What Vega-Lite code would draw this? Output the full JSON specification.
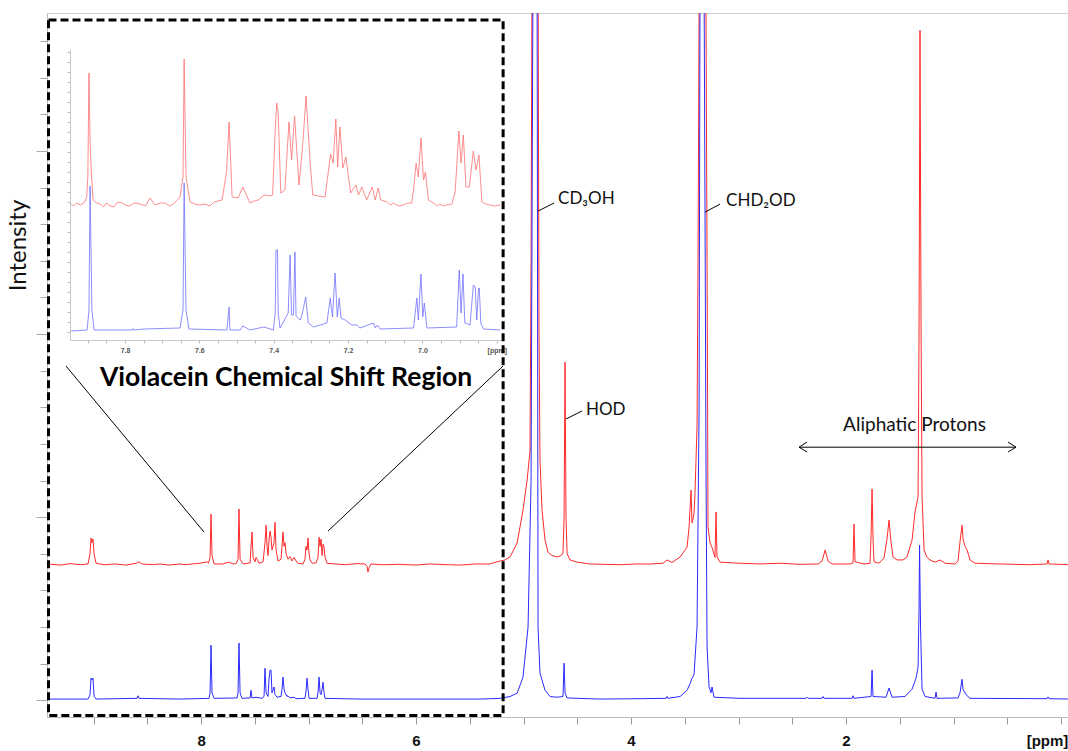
{
"$schema": "https://vega.github.io/schema/vega-lite/v6.json",
"width": 1022, "height": 704,
"autosize": {"type": "none"},
"padding": {"left": 47, "top": 13, "right": 0, "bottom": 34},
"background": "white",
"config": {"view": {"stroke": "#d0d0d0"}, "axis": {"grid": false}},
"datasets": {
"mainRed": [
{"ppm":9.433,"v":3.72},{"ppm":9.3,"v":3.69},{"ppm":9.219,"v":3.73},{"ppm":9.12,"v":3.70},{"ppm":9.051,"v":3.72},{"ppm":9.033,"v":4.0},{"ppm":9.023,"v":4.43},{"ppm":9.014,"v":4.3},{"ppm":9.005,"v":4.40},{"ppm":8.995,"v":4.0},{"ppm":8.977,"v":3.74},{"ppm":8.9,"v":3.70},{"ppm":8.8,"v":3.72},{"ppm":8.7,"v":3.69},{"ppm":8.6,"v":3.74},{"ppm":8.577,"v":3.78},{"ppm":8.55,"v":3.72},{"ppm":8.45,"v":3.70},{"ppm":8.381,"v":3.72},{"ppm":8.3,"v":3.69},{"ppm":8.2,"v":3.72},{"ppm":8.149,"v":3.70},{"ppm":8.05,"v":3.73},{"ppm":8.009,"v":3.74},{"ppm":7.944,"v":3.78},{"ppm":7.93,"v":3.74},{"ppm":7.916,"v":3.9},{"ppm":7.907,"v":5.08},{"ppm":7.898,"v":3.95},{"ppm":7.879,"v":3.72},{"ppm":7.8,"v":3.72},{"ppm":7.74,"v":3.77},{"ppm":7.7,"v":3.72},{"ppm":7.674,"v":3.73},{"ppm":7.656,"v":3.85},{"ppm":7.647,"v":5.22},{"ppm":7.637,"v":3.85},{"ppm":7.609,"v":3.72},{"ppm":7.544,"v":3.75},{"ppm":7.535,"v":4.2},{"ppm":7.526,"v":4.59},{"ppm":7.516,"v":3.9},{"ppm":7.498,"v":3.78},{"ppm":7.488,"v":3.9},{"ppm":7.479,"v":3.85},{"ppm":7.46,"v":3.74},{"ppm":7.423,"v":3.78},{"ppm":7.405,"v":4.3},{"ppm":7.395,"v":4.78},{"ppm":7.386,"v":4.2},{"ppm":7.377,"v":3.95},{"ppm":7.367,"v":4.4},{"ppm":7.358,"v":4.62},{"ppm":7.349,"v":4.45},{"ppm":7.34,"v":4.1},{"ppm":7.321,"v":4.3},{"ppm":7.312,"v":4.86},{"ppm":7.302,"v":4.1},{"ppm":7.284,"v":3.8},{"ppm":7.256,"v":3.85},{"ppm":7.247,"v":4.2},{"ppm":7.237,"v":4.59},{"ppm":7.228,"v":4.2},{"ppm":7.219,"v":4.3},{"ppm":7.209,"v":4.0},{"ppm":7.191,"v":3.85},{"ppm":7.172,"v":3.92},{"ppm":7.153,"v":3.8},{"ppm":7.135,"v":3.9},{"ppm":7.116,"v":3.8},{"ppm":7.098,"v":3.74},{"ppm":7.051,"v":3.72},{"ppm":7.033,"v":3.85},{"ppm":7.023,"v":4.2},{"ppm":7.014,"v":4.1},{"ppm":7.005,"v":4.43},{"ppm":6.995,"v":4.0},{"ppm":6.986,"v":3.83},{"ppm":6.967,"v":3.74},{"ppm":6.93,"v":3.75},{"ppm":6.912,"v":3.9},{"ppm":6.902,"v":4.45},{"ppm":6.893,"v":4.2},{"ppm":6.884,"v":4.4},{"ppm":6.874,"v":3.95},{"ppm":6.865,"v":4.26},{"ppm":6.856,"v":4.2},{"ppm":6.847,"v":3.9},{"ppm":6.828,"v":3.74},{"ppm":6.75,"v":3.72},{"ppm":6.66,"v":3.70},{"ppm":6.55,"v":3.73},{"ppm":6.474,"v":3.72},{"ppm":6.456,"v":3.66},{"ppm":6.447,"v":3.5},{"ppm":6.437,"v":3.62},{"ppm":6.419,"v":3.72},{"ppm":6.3,"v":3.70},{"ppm":6.149,"v":3.71},{"ppm":6.0,"v":3.69},{"ppm":5.87,"v":3.72},{"ppm":5.7,"v":3.70},{"ppm":5.591,"v":3.69},{"ppm":5.45,"v":3.72},{"ppm":5.312,"v":3.72},{"ppm":5.247,"v":3.78},{"ppm":5.172,"v":3.83},{"ppm":5.126,"v":3.91},{"ppm":5.06,"v":4.29},{"ppm":5.005,"v":5.19},{"ppm":4.967,"v":6.01},{"ppm":4.94,"v":6.8},{"ppm":4.93,"v":12},{"ppm":4.921,"v":20},{"ppm":4.893,"v":30},{"ppm":4.865,"v":20},{"ppm":4.856,"v":10},{"ppm":4.847,"v":6.56},{"ppm":4.828,"v":5.19},{"ppm":4.8,"v":4.37},{"ppm":4.772,"v":4.04},{"ppm":4.735,"v":3.95},{"ppm":4.688,"v":3.91},{"ppm":4.651,"v":3.95},{"ppm":4.633,"v":4.02},{"ppm":4.623,"v":5},{"ppm":4.614,"v":9.23},{"ppm":4.605,"v":5},{"ppm":4.595,"v":4.0},{"ppm":4.567,"v":3.83},{"ppm":4.502,"v":3.77},{"ppm":4.381,"v":3.72},{"ppm":4.25,"v":3.71},{"ppm":4.102,"v":3.70},{"ppm":3.95,"v":3.72},{"ppm":3.823,"v":3.72},{"ppm":3.702,"v":3.74},{"ppm":3.665,"v":3.83},{"ppm":3.619,"v":3.76},{"ppm":3.544,"v":3.91},{"ppm":3.479,"v":4.18},{"ppm":3.46,"v":4.73},{"ppm":3.442,"v":5.74},{"ppm":3.433,"v":4.84},{"ppm":3.414,"v":5.1},{"ppm":3.405,"v":5.66},{"ppm":3.386,"v":7.5},{"ppm":3.377,"v":12},{"ppm":3.358,"v":25},{"ppm":3.34,"v":30},{"ppm":3.312,"v":25},{"ppm":3.293,"v":12},{"ppm":3.284,"v":4.73},{"ppm":3.265,"v":4.3},{"ppm":3.247,"v":4.18},{"ppm":3.219,"v":3.9},{"ppm":3.209,"v":5.14},{"ppm":3.2,"v":3.91},{"ppm":3.172,"v":3.77},{"ppm":2.986,"v":3.74},{"ppm":2.8,"v":3.72},{"ppm":2.614,"v":3.74},{"ppm":2.428,"v":3.71},{"ppm":2.26,"v":3.72},{"ppm":2.223,"v":3.8},{"ppm":2.195,"v":4.1},{"ppm":2.167,"v":3.8},{"ppm":2.13,"v":3.72},{"ppm":1.963,"v":3.72},{"ppm":1.935,"v":3.75},{"ppm":1.926,"v":4.81},{"ppm":1.916,"v":3.78},{"ppm":1.833,"v":3.72},{"ppm":1.777,"v":3.74},{"ppm":1.767,"v":4.5},{"ppm":1.758,"v":5.77},{"ppm":1.749,"v":4.4},{"ppm":1.74,"v":3.78},{"ppm":1.693,"v":3.74},{"ppm":1.647,"v":3.88},{"ppm":1.619,"v":4.4},{"ppm":1.6,"v":4.92},{"ppm":1.581,"v":4.3},{"ppm":1.563,"v":3.91},{"ppm":1.526,"v":3.83},{"ppm":1.47,"v":3.83},{"ppm":1.433,"v":3.91},{"ppm":1.386,"v":4.37},{"ppm":1.358,"v":5.14},{"ppm":1.33,"v":5.57},{"ppm":1.321,"v":10},{"ppm":1.312,"v":18.3},{"ppm":1.302,"v":10},{"ppm":1.293,"v":5.57},{"ppm":1.274,"v":4.10},{"ppm":1.247,"v":3.9},{"ppm":1.219,"v":3.83},{"ppm":1.172,"v":3.77},{"ppm":1.126,"v":3.83},{"ppm":1.079,"v":3.74},{"ppm":0.986,"v":3.72},{"ppm":0.958,"v":3.80},{"ppm":0.94,"v":4.32},{"ppm":0.921,"v":4.78},{"ppm":0.912,"v":4.4},{"ppm":0.893,"v":4.2},{"ppm":0.874,"v":4.10},{"ppm":0.847,"v":3.83},{"ppm":0.8,"v":3.74},{"ppm":0.567,"v":3.72},{"ppm":0.288,"v":3.70},{"ppm":0.13,"v":3.72},{"ppm":0.121,"v":3.83},{"ppm":0.112,"v":3.72},{"ppm":-0.074,"v":3.70}
],
"mainBlue": [
{"ppm":9.433,"v":0.03},{"ppm":9.051,"v":0.03},{"ppm":9.033,"v":0.15},{"ppm":9.023,"v":0.6},{"ppm":9.014,"v":0.55},{"ppm":9.005,"v":0.6},{"ppm":8.995,"v":0.1},{"ppm":8.977,"v":0.03},{"ppm":8.595,"v":0.05},{"ppm":8.586,"v":0.12},{"ppm":8.577,"v":0.05},{"ppm":8.195,"v":0.03},{"ppm":7.926,"v":0.05},{"ppm":7.916,"v":0.2},{"ppm":7.907,"v":1.5},{"ppm":7.898,"v":0.2},{"ppm":7.879,"v":0.05},{"ppm":7.665,"v":0.06},{"ppm":7.656,"v":0.2},{"ppm":7.647,"v":1.56},{"ppm":7.637,"v":0.2},{"ppm":7.619,"v":0.05},{"ppm":7.544,"v":0.06},{"ppm":7.535,"v":0.27},{"ppm":7.526,"v":0.06},{"ppm":7.488,"v":0.08},{"ppm":7.433,"v":0.05},{"ppm":7.414,"v":0.1},{"ppm":7.405,"v":0.87},{"ppm":7.395,"v":0.2},{"ppm":7.377,"v":0.1},{"ppm":7.367,"v":0.6},{"ppm":7.358,"v":0.82},{"ppm":7.349,"v":0.82},{"ppm":7.34,"v":0.2},{"ppm":7.321,"v":0.36},{"ppm":7.312,"v":0.15},{"ppm":7.293,"v":0.08},{"ppm":7.256,"v":0.1},{"ppm":7.247,"v":0.3},{"ppm":7.237,"v":0.63},{"ppm":7.228,"v":0.3},{"ppm":7.219,"v":0.2},{"ppm":7.2,"v":0.1},{"ppm":7.191,"v":0.12},{"ppm":7.172,"v":0.06},{"ppm":7.135,"v":0.08},{"ppm":7.116,"v":0.04},{"ppm":7.033,"v":0.05},{"ppm":7.023,"v":0.25},{"ppm":7.014,"v":0.6},{"ppm":7.005,"v":0.3},{"ppm":6.995,"v":0.05},{"ppm":6.921,"v":0.05},{"ppm":6.912,"v":0.2},{"ppm":6.902,"v":0.63},{"ppm":6.893,"v":0.2},{"ppm":6.884,"v":0.15},{"ppm":6.874,"v":0.3},{"ppm":6.865,"v":0.49},{"ppm":6.856,"v":0.2},{"ppm":6.847,"v":0.05},{"ppm":6.521,"v":0.03},{"ppm":5.963,"v":0.03},{"ppm":5.405,"v":0.03},{"ppm":5.219,"v":0.05},{"ppm":5.126,"v":0.1},{"ppm":5.06,"v":0.19},{"ppm":5.005,"v":0.63},{"ppm":4.958,"v":2.0},{"ppm":4.93,"v":6},{"ppm":4.912,"v":20},{"ppm":4.893,"v":30},{"ppm":4.874,"v":20},{"ppm":4.865,"v":2.0},{"ppm":4.847,"v":0.74},{"ppm":4.8,"v":0.27},{"ppm":4.753,"v":0.1},{"ppm":4.688,"v":0.08},{"ppm":4.633,"v":0.1},{"ppm":4.623,"v":1.01},{"ppm":4.614,"v":0.2},{"ppm":4.595,"v":0.06},{"ppm":4.288,"v":0.03},{"ppm":3.916,"v":0.04},{"ppm":3.674,"v":0.05},{"ppm":3.665,"v":0.1},{"ppm":3.656,"v":0.05},{"ppm":3.544,"v":0.1},{"ppm":3.479,"v":0.27},{"ppm":3.451,"v":0.45},{"ppm":3.433,"v":0.6},{"ppm":3.414,"v":0.7},{"ppm":3.386,"v":2.0},{"ppm":3.367,"v":8},{"ppm":3.358,"v":20},{"ppm":3.34,"v":30},{"ppm":3.321,"v":20},{"ppm":3.302,"v":6},{"ppm":3.293,"v":1.45},{"ppm":3.274,"v":0.36},{"ppm":3.256,"v":0.2},{"ppm":3.247,"v":0.36},{"ppm":3.228,"v":0.08},{"ppm":2.986,"v":0.05},{"ppm":2.372,"v":0.05},{"ppm":2.363,"v":0.08},{"ppm":2.353,"v":0.05},{"ppm":2.223,"v":0.05},{"ppm":2.214,"v":0.1},{"ppm":2.205,"v":0.05},{"ppm":1.944,"v":0.05},{"ppm":1.935,"v":0.12},{"ppm":1.926,"v":0.05},{"ppm":1.767,"v":0.1},{"ppm":1.758,"v":0.82},{"ppm":1.749,"v":0.1},{"ppm":1.628,"v":0.08},{"ppm":1.6,"v":0.33},{"ppm":1.572,"v":0.08},{"ppm":1.451,"v":0.1},{"ppm":1.386,"v":0.3},{"ppm":1.349,"v":0.6},{"ppm":1.33,"v":0.9},{"ppm":1.321,"v":2.5},{"ppm":1.316,"v":4.23},{"ppm":1.307,"v":2},{"ppm":1.293,"v":0.3},{"ppm":1.265,"v":0.1},{"ppm":1.172,"v":0.05},{"ppm":1.163,"v":0.22},{"ppm":1.153,"v":0.05},{"ppm":0.958,"v":0.06},{"ppm":0.94,"v":0.2},{"ppm":0.921,"v":0.57},{"ppm":0.912,"v":0.3},{"ppm":0.884,"v":0.15},{"ppm":0.847,"v":0.05},{"ppm":0.13,"v":0.04},{"ppm":0.121,"v":0.09},{"ppm":0.112,"v":0.04},{"ppm":-0.074,"v":0.03}
],
"insetRed": [
{"ippm":7.945,"iv":12.8},{"ippm":7.938,"iv":12.6},{"ippm":7.93,"iv":12.9},{"ippm":7.92,"iv":12.7},{"ippm":7.908,"iv":13.0},{"ippm":7.903,"iv":13.6},{"ippm":7.9,"iv":15.5},{"ippm":7.897,"iv":25.9},{"ippm":7.894,"iv":19},{"ippm":7.891,"iv":16.2},{"ippm":7.886,"iv":13.2},{"ippm":7.876,"iv":12.9},{"ippm":7.867,"iv":12.8},{"ippm":7.858,"iv":12.5},{"ippm":7.85,"iv":12.9},{"ippm":7.84,"iv":12.6},{"ippm":7.83,"iv":12.5},{"ippm":7.822,"iv":12.9},{"ippm":7.813,"iv":13.0},{"ippm":7.8,"iv":12.7},{"ippm":7.787,"iv":12.6},{"ippm":7.775,"iv":12.9},{"ippm":7.76,"iv":12.8},{"ippm":7.745,"iv":12.6},{"ippm":7.733,"iv":13.4},{"ippm":7.719,"iv":12.7},{"ippm":7.705,"iv":12.9},{"ippm":7.692,"iv":12.9},{"ippm":7.68,"iv":12.6},{"ippm":7.67,"iv":12.8},{"ippm":7.652,"iv":13.5},{"ippm":7.644,"iv":15.5},{"ippm":7.641,"iv":27.3},{"ippm":7.636,"iv":15.5},{"ippm":7.625,"iv":13.0},{"ippm":7.613,"iv":12.8},{"ippm":7.6,"iv":12.7},{"ippm":7.585,"iv":12.8},{"ippm":7.572,"iv":12.6},{"ippm":7.56,"iv":13.0},{"ippm":7.539,"iv":13.2},{"ippm":7.527,"iv":16},{"ippm":7.52,"iv":21.0},{"ippm":7.512,"iv":13.5},{"ippm":7.496,"iv":13.4},{"ippm":7.483,"iv":14.5},{"ippm":7.464,"iv":12.9},{"ippm":7.452,"iv":13.1},{"ippm":7.442,"iv":13.2},{"ippm":7.426,"iv":13.7},{"ippm":7.41,"iv":13.6},{"ippm":7.403,"iv":13.7},{"ippm":7.396,"iv":20.2},{"ippm":7.392,"iv":22.9},{"ippm":7.388,"iv":21.9},{"ippm":7.381,"iv":13.9},{"ippm":7.37,"iv":14.2},{"ippm":7.359,"iv":21.0},{"ippm":7.352,"iv":17.2},{"ippm":7.344,"iv":21.6},{"ippm":7.332,"iv":14.7},{"ippm":7.323,"iv":18.2},{"ippm":7.313,"iv":23.6},{"ippm":7.302,"iv":16.9},{"ippm":7.295,"iv":13.7},{"ippm":7.28,"iv":13.6},{"ippm":7.262,"iv":13.5},{"ippm":7.257,"iv":14.9},{"ippm":7.247,"iv":17.8},{"ippm":7.24,"iv":16.9},{"ippm":7.233,"iv":21.3},{"ippm":7.228,"iv":16.5},{"ippm":7.222,"iv":20.5},{"ippm":7.214,"iv":16.4},{"ippm":7.206,"iv":17.5},{"ippm":7.199,"iv":15.5},{"ippm":7.193,"iv":13.9},{"ippm":7.179,"iv":14.7},{"ippm":7.172,"iv":13.7},{"ippm":7.163,"iv":14.5},{"ippm":7.15,"iv":13.2},{"ippm":7.135,"iv":14.5},{"ippm":7.127,"iv":13.2},{"ippm":7.119,"iv":14.4},{"ippm":7.112,"iv":13.2},{"ippm":7.095,"iv":13.0},{"ippm":7.085,"iv":12.7},{"ippm":7.078,"iv":12.9},{"ippm":7.065,"iv":12.6},{"ippm":7.051,"iv":12.7},{"ippm":7.04,"iv":12.9},{"ippm":7.029,"iv":12.9},{"ippm":7.024,"iv":14.2},{"ippm":7.017,"iv":16.9},{"ippm":7.011,"iv":15.5},{"ippm":7.004,"iv":19.4},{"ippm":6.997,"iv":15.2},{"ippm":6.992,"iv":16.0},{"ippm":6.984,"iv":13.2},{"ippm":6.97,"iv":12.9},{"ippm":6.96,"iv":12.6},{"ippm":6.953,"iv":12.8},{"ippm":6.945,"iv":12.6},{"ippm":6.935,"iv":12.7},{"ippm":6.921,"iv":12.8},{"ippm":6.912,"iv":14.0},{"ippm":6.902,"iv":20.1},{"ippm":6.896,"iv":16.9},{"ippm":6.89,"iv":19.7},{"ippm":6.883,"iv":14.5},{"ippm":6.874,"iv":14.5},{"ippm":6.863,"iv":18.1},{"ippm":6.856,"iv":16.2},{"ippm":6.848,"iv":17.7},{"ippm":6.84,"iv":13.0},{"ippm":6.83,"iv":12.8},{"ippm":6.818,"iv":12.7},{"ippm":6.805,"iv":12.6},{"ippm":6.791,"iv":12.7}
],
"insetBlue": [
{"ippm":7.945,"iv":0.1},{"ippm":7.902,"iv":0.2},{"ippm":7.897,"iv":2.2},{"ippm":7.894,"iv":14.6},{"ippm":7.889,"iv":2.2},{"ippm":7.883,"iv":0.2},{"ippm":7.78,"iv":0.2},{"ippm":7.778,"iv":0.35},{"ippm":7.775,"iv":0.2},{"ippm":7.749,"iv":0.3},{"ippm":7.652,"iv":0.4},{"ippm":7.644,"iv":2.2},{"ippm":7.641,"iv":14.9},{"ippm":7.636,"iv":2.2},{"ippm":7.628,"iv":0.3},{"ippm":7.526,"iv":0.2},{"ippm":7.52,"iv":2.5},{"ippm":7.518,"iv":0.2},{"ippm":7.49,"iv":0.2},{"ippm":7.483,"iv":0.6},{"ippm":7.464,"iv":0.2},{"ippm":7.426,"iv":0.5},{"ippm":7.401,"iv":0.2},{"ippm":7.396,"iv":1.9},{"ippm":7.394,"iv":8.2},{"ippm":7.39,"iv":8.2},{"ippm":7.388,"iv":1.9},{"ippm":7.383,"iv":0.4},{"ippm":7.361,"iv":1.9},{"ippm":7.356,"iv":7.7},{"ippm":7.352,"iv":1.7},{"ippm":7.347,"iv":1.7},{"ippm":7.343,"iv":8.0},{"ippm":7.34,"iv":1.6},{"ippm":7.329,"iv":1.2},{"ippm":7.324,"iv":1.7},{"ippm":7.314,"iv":3.5},{"ippm":7.307,"iv":0.9},{"ippm":7.293,"iv":0.5},{"ippm":7.257,"iv":0.9},{"ippm":7.248,"iv":3.4},{"ippm":7.242,"iv":1.5},{"ippm":7.235,"iv":5.9},{"ippm":7.229,"iv":1.5},{"ippm":7.224,"iv":3.4},{"ippm":7.219,"iv":1.4},{"ippm":7.208,"iv":1.2},{"ippm":7.19,"iv":0.7},{"ippm":7.177,"iv":0.7},{"ippm":7.168,"iv":0.4},{"ippm":7.132,"iv":0.9},{"ippm":7.127,"iv":0.4},{"ippm":7.121,"iv":0.7},{"ippm":7.114,"iv":0.3},{"ippm":7.024,"iv":0.4},{"ippm":7.015,"iv":3.4},{"ippm":7.011,"iv":1.2},{"ippm":7.004,"iv":5.8},{"ippm":6.999,"iv":1.5},{"ippm":6.995,"iv":2.9},{"ippm":6.988,"iv":0.4},{"ippm":6.908,"iv":0.5},{"ippm":6.901,"iv":6.2},{"ippm":6.896,"iv":1.9},{"ippm":6.891,"iv":5.8},{"ippm":6.886,"iv":0.9},{"ippm":6.872,"iv":0.7},{"ippm":6.863,"iv":4.7},{"ippm":6.858,"iv":4.5},{"ippm":6.854,"iv":1.2},{"ippm":6.849,"iv":4.4},{"ippm":6.847,"iv":4.4},{"ippm":6.843,"iv":0.9},{"ippm":6.836,"iv":0.3},{"ippm":6.791,"iv":0.2}
],
"box": [{"ppm":9.419,"ppm2":5.19,"v":18.58,"v2":-0.42}],
"segments": [
{"ppm":9.256,"v":9.126,"ppm2":7.972,"v2":4.59},
{"ppm":5.191,"v":9.126,"ppm2":6.819,"v2":4.62},
{"ppm":4.865,"v":13.36,"ppm2":4.716,"v2":13.58},
{"ppm":3.312,"v":13.33,"ppm2":3.172,"v2":13.55},
{"ppm":4.605,"v":7.68,"ppm2":4.456,"v2":7.9},
{"ppm":2.437,"v":6.91,"ppm2":0.419,"v2":6.91},
{"ppm":2.437,"v":6.91,"ppm2":2.363,"v2":7.05},
{"ppm":2.437,"v":6.91,"ppm2":2.363,"v2":6.78},
{"ppm":0.419,"v":6.91,"ppm2":0.493,"v2":7.05},
{"ppm":0.419,"v":6.91,"ppm2":0.493,"v2":6.78}
],
"peakLabels": [
{"ppm":4.679,"v":13.55,"label":"CD₃OH"},
{"ppm":3.116,"v":13.5,"label":"CHD₂OD"},
{"ppm":4.419,"v":7.79,"label":"HOD"}
],
"regionLabel": [{"ppm":1.363,"v":7.35,"label":"Aliphatic Protons"}],
"insetTitle": [{"ppm":7.209,"v":8.58,"label":"Violacein Chemical Shift Region"}]
},
"layer": [
{
"encoding": {
"x": {"field": "ppm", "type": "quantitative",
 "scale": {"domain": [9.433, -0.074], "nice": false, "zero": false},
 "axis": {"title": null, "values": [9,8.5,8,7.5,7,6.5,6,5.5,5,4.5,4,3.5,3,2.5,2,1.5,1,0.5,0],
  "grid": false, "tickSize": 7, "tickColor": "#999999", "domainColor": "#bbbbbb",
  "labelFont": "Liberation Sans", "labelFontSize": 15, "labelFontWeight": "bold", "labelColor": "#111111",
  "labelPadding": 9, "labelFlush": false, "labelOverlap": false,
  "labelOffset": {"expr": "datum.value === 0 ? -14 : 0"},
  "labelExpr": "datum.value === 0 ? '[ppm]' : (datum.value % 2 === 0 ? '' + datum.value : '')"}},
"y": {"field": "v", "type": "quantitative",
 "scale": {"domain": [-0.46, 18.77], "nice": false, "zero": false},
 "axis": {"title": "Intensity", "values": [0,1,2,3,4,5,6,7,8,9,10,11,12,13,14,15,16,17,18],
  "labels": false, "grid": false,
  "tickSize": {"expr": "datum.value % 5 === 0 ? 11 : 7"},
  "tickColor": "#aaaaaa", "domainColor": "#bbbbbb",
  "titleFont": "Lato", "titleFontSize": 24, "titleFontWeight": "normal", "titleColor": "#111111",
  "titleX": -29, "titleY": 232, "titleAngle": -90, "titleAlign": "center", "titleBaseline": "middle"}}
},
"layer": [
{"data": {"name": "mainRed"}, "mark": {"type": "line", "color": "#ff2a2a", "strokeWidth": 1, "clip": true}},
{"data": {"name": "mainBlue"}, "mark": {"type": "line", "color": "#2a2aff", "strokeWidth": 1, "clip": true}},
{"data": {"name": "box"}, "mark": {"type": "rect", "fillOpacity": 0, "stroke": "#000000", "strokeWidth": 3, "strokeDash": [8, 4]},
 "encoding": {"x2": {"field": "ppm2"}, "y2": {"field": "v2"}}},
{"data": {"name": "segments"}, "mark": {"type": "rule", "color": "#000000", "strokeWidth": 1},
 "encoding": {"x2": {"field": "ppm2"}, "y2": {"field": "v2"}}},
{"data": {"name": "peakLabels"}, "mark": {"type": "text", "align": "left", "baseline": "alphabetic", "font": "Lato", "fontSize": 17, "color": "#111111"},
 "encoding": {"text": {"field": "label"}}},
{"data": {"name": "regionLabel"}, "mark": {"type": "text", "align": "center", "baseline": "alphabetic", "font": "Lato", "fontSize": 19, "color": "#111111"},
 "encoding": {"text": {"field": "label"}}},
{"data": {"name": "insetTitle"}, "mark": {"type": "text", "align": "center", "baseline": "alphabetic", "font": "Lato", "fontSize": 26.5, "fontWeight": "bold", "color": "#000000"},
 "encoding": {"text": {"field": "label"}}}
]
},
{
"encoding": {
"x": {"field": "ippm", "type": "quantitative",
 "scale": {"domain": [7.948, 6.786], "range": [23, 455], "nice": false, "zero": false},
 "axis": {"orient": "bottom", "offset": -377, "title": null,
  "values": [7.9,7.85,7.8,7.75,7.7,7.65,7.6,7.55,7.5,7.45,7.4,7.35,7.3,7.25,7.2,7.15,7.1,7.05,7.0,6.95,6.9,6.85,6.8],
  "grid": false, "tickSize": 3, "tickColor": "#bbbbbb", "domainColor": "#c8c8c8",
  "labelFont": "Liberation Sans", "labelFontSize": 7, "labelFontWeight": "bold", "labelColor": "#555555",
  "labelPadding": 3, "labelFlush": false, "labelOverlap": false,
  "labelExpr": "abs(datum.value - 6.8) < 0.001 ? '[ppm]' : (abs(datum.value * 5 - round(datum.value * 5)) < 0.001 ? format(datum.value, '.1f') : '')"}},
"y": {"field": "iv", "type": "quantitative",
 "scale": {"domain": [-0.8, 28.3], "range": [327, 36], "nice": false, "zero": false},
 "axis": {"orient": "left", "offset": -23, "title": null,
  "values": [0,1,2,3,4,5,6,7,8,9,10,11,12,13,14,15,16,17,18,19,20,21,22,23,24,25,26,27,28],
  "labels": false, "grid": false, "tickSize": 3, "tickColor": "#c0c0c0", "domainColor": "#c8c8c8"}}
},
"layer": [
{"data": {"name": "insetRed"}, "mark": {"type": "line", "color": "#ff7070", "strokeWidth": 0.8}},
{"data": {"name": "insetBlue"}, "mark": {"type": "line", "color": "#7070ff", "strokeWidth": 0.8}}
]
}
],
"resolve": {"scale": {"x": "independent", "y": "independent"}}
}
